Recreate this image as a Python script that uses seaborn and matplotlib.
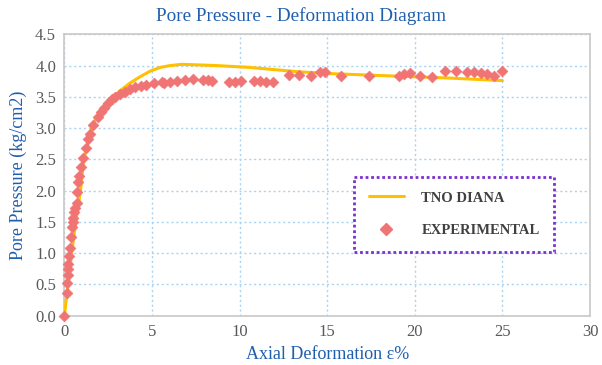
import matplotlib
matplotlib.use("Agg")
import matplotlib.pyplot as plt
import seaborn as sns
import pandas as pd
from matplotlib.lines import Line2D

# --- data ---
exp_x = [0.0, 0.14, 0.15, 0.18, 0.2, 0.22, 0.26, 0.3, 0.35, 0.41, 0.47, 0.5, 0.56, 0.62,
         0.7, 0.73, 0.79, 0.85, 0.94, 1.08, 1.23, 1.36, 1.45, 1.65, 1.9, 2.1, 2.28, 2.47,
         2.7, 2.89, 3.17, 3.46, 3.74, 4.03, 4.37, 4.64, 5.13, 5.55, 5.68, 6.03, 6.44,
         6.88, 7.32, 7.89, 8.2, 8.45, 9.4, 9.73, 10.1, 10.8, 11.15, 11.5, 11.9, 12.8,
         13.4, 14.1, 14.6, 14.86, 15.8, 17.4, 19.1, 19.4, 19.7, 20.3, 21.0, 21.75,
         22.35, 23.0, 23.4, 23.8, 24.15, 24.5, 25.0]
exp_y = [0.0, 0.37, 0.52, 0.65, 0.75, 0.82, 0.95, 1.09, 1.26, 1.42, 1.5, 1.56, 1.66, 1.72,
         1.8, 1.98, 2.14, 2.23, 2.38, 2.53, 2.68, 2.82, 2.9, 3.05, 3.18, 3.26, 3.32, 3.4,
         3.46, 3.5, 3.55, 3.58, 3.62, 3.65, 3.67, 3.69, 3.72, 3.73, 3.72, 3.74, 3.75,
         3.77, 3.78, 3.77, 3.77, 3.75, 3.74, 3.74, 3.75, 3.75, 3.75, 3.74, 3.73, 3.85,
         3.85, 3.84, 3.9, 3.9, 3.84, 3.84, 3.84, 3.87, 3.88, 3.84, 3.82, 3.92,
         3.92, 3.9, 3.89, 3.88, 3.87, 3.84, 3.92]

fem_x = [0.0, 0.1, 0.22, 0.41, 0.65, 0.92, 1.1, 1.38, 1.62, 1.9, 2.2, 2.65, 3.15,
         3.74, 4.31, 4.89, 5.46, 6.03, 6.7, 8.7, 10.6, 13.4, 15.3, 19.1, 22.0, 25.0]
fem_y = [0.0, 0.25, 0.5, 1.0, 1.5, 2.0, 2.49, 2.82, 3.06, 3.19, 3.3, 3.45, 3.59,
         3.72, 3.82, 3.91, 3.97, 4.0, 4.02, 4.0, 3.97, 3.9, 3.87, 3.83, 3.8, 3.76]

x_ticks = [0, 5, 10, 15, 20, 25, 30]
y_ticks = [0.0, 0.5, 1.0, 1.5, 2.0, 2.5, 3.0, 3.5, 4.0, 4.5]

title = "Pore Pressure - Deformation Diagram"
xlabel = "Axial Deformation ε%"
ylabel = "Pore Pressure (kg/cm2)"
series_names = ["TNO DIANA", "EXPERIMENTAL"]

# --- style ---
sns.set_style("white")
plt.rcParams['font.family'] = ['Liberation Serif', 'DejaVu Serif']

blue = "#1F5FAD"
line_col = "#FFC000"
pt_col = "#F07474"
grid_col = "#A9D3F2"
tick_col = "#595959"

fig = plt.figure(figsize=(6.02, 3.65), dpi=100)
ax = fig.add_axes([0.107, 0.135, 0.873, 0.771])

df_fem = pd.DataFrame({"x": fem_x, "y": fem_y})
df_exp = pd.DataFrame({"x": exp_x, "y": exp_y})

sns.lineplot(data=df_fem, x="x", y="y", sort=False, color=line_col, lw=2.2, ax=ax, zorder=3)
sns.scatterplot(data=df_exp, x="x", y="y", marker="D", s=30, color=pt_col,
                edgecolor=pt_col, linewidth=0.5, ax=ax, zorder=4, clip_on=False)

ax.set_xlim(0, 30)
ax.set_ylim(0, 4.5)
ax.set_xticks(x_ticks)
ax.set_yticks(y_ticks)
ax.set_yticklabels([f"{v:.1f}" for v in y_ticks])
ax.tick_params(axis="both", length=0, labelsize=12, labelcolor=tick_col, pad=6)

ax.grid(True, color=grid_col, linestyle=(0, (1.5, 2)), linewidth=1.0)
ax.set_axisbelow(True)
for s in ax.spines.values():
    s.set_color("#C8C8C8")
    s.set_linewidth(1.2)

fig.text(0.5, 0.955, title, ha="center", va="center", color=blue, fontsize=13.8)
ax.set_xlabel(xlabel, color=blue, fontsize=13, labelpad=4)
ax.set_ylabel(ylabel, color=blue, fontsize=13, labelpad=6)

handles = [Line2D([], [], color=line_col, lw=2.2),
           Line2D([], [], color=pt_col, marker="D", ls="none", markersize=6)]
leg = ax.legend(handles, series_names, loc="center",
                bbox_to_anchor=(0.742, 0.36), frameon=True, fancybox=False,
                prop={"weight": "bold", "size": 10.5}, labelcolor="#404040",
                handlelength=2.4, handletextpad=1.2, labelspacing=1.35,
                borderpad=1.0, borderaxespad=0)
fr = leg.get_frame()
fr.set_edgecolor("#7B2FCF")
fr.set_linestyle((0, (1, 1)))
fr.set_linewidth(2.0)
fr.set_facecolor("white")
fr.set_alpha(1)

fig.savefig("out.png", dpi=100)
